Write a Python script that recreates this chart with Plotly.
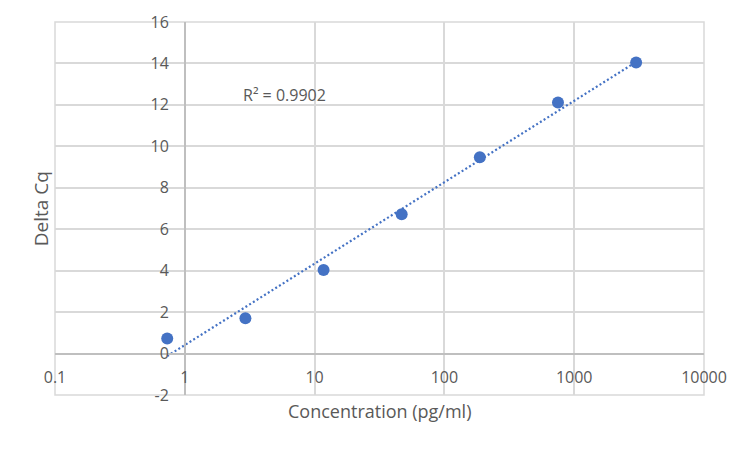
import numpy as np
import plotly.graph_objects as go

# standard curve: 4-fold dilution series
concentration = [0.732, 2.93, 11.72, 46.875, 187.5, 750, 3000]
delta_cq = [0.73, 1.70, 4.03, 6.72, 9.47, 12.12, 14.05]
r_squared_text = 'R² = 0.9902'

x_tickvals = [0.1, 1, 10, 100, 1000, 10000]
x_ticktext = ['0.1', '1', '10', '100', '1000', '10000']
y_tickvals = [-2, 0, 2, 4, 6, 8, 10, 12, 14, 16]
y_ticktext = ['-2', '0', '2', '4', '6', '8', '10', '12', '14', '16']

blue = '#4472C4'
grid = '#d9d9d9'
text_color = '#595959'
font = 'Open Sans'

# logarithmic trendline like Excel: y = a*ln(x) + b, drawn over the data range
slope, intercept = np.polyfit(np.log10(concentration), delta_cq, 1)
trend_x = [min(concentration), max(concentration)]
trend_y = [slope * np.log10(v) + intercept for v in trend_x]

x_range = [-1, 4]
y_range = [-2, 16]

fig = go.Figure()

fig.add_scatter(
    x=trend_x, y=trend_y, mode='lines',
    line=dict(color=blue, width=2.2, dash='2px,2.4px'),
    hoverinfo='skip', showlegend=False,
)
fig.add_scatter(
    x=concentration, y=delta_cq, mode='markers',
    marker=dict(color=blue, size=12, line=dict(width=0)),
    showlegend=False,
)

# gridlines at the range ends get dropped, so outline the plot area
fig.add_shape(
    type='rect', xref='paper', yref='paper', x0=0, x1=1, y0=0, y1=1,
    line=dict(color=grid, width=1.5), layer='below',
)

fig.add_annotation(
    x=0.431, y=12.49, xref='x', yref='y', text=r_squared_text,
    showarrow=False, xanchor='left', yanchor='middle',
    font=dict(family=font, size=16, color=text_color),
)
fig.add_annotation(
    x=0.5, y=-0.043, xref='paper', yref='paper', text='Concentration (pg/ml)',
    showarrow=False, xanchor='center', yanchor='middle',
    font=dict(family=font, size=18, color=text_color),
)
fig.add_annotation(
    x=-0.022, y=0.5, xref='paper', yref='paper', text='Delta Cq', textangle=-90,
    showarrow=False, xanchor='center', yanchor='middle',
    font=dict(family=font, size=19, color=text_color),
)

# the page body has an 8px margin, so the figure is shrunk by that much
fig.update_layout(
    width=742, height=442,
    margin=dict(l=47, r=46, t=14, b=55),
    paper_bgcolor='white', plot_bgcolor='white',
    font=dict(family=font, size=16, color=text_color),
    xaxis=dict(
        type='log', range=x_range,
        tickmode='array', tickvals=x_tickvals, ticktext=x_ticktext,
        showgrid=True, gridcolor=grid, gridwidth=1.5,
        showline=True, linecolor='#bfbfbf', linewidth=1.5,
        anchor='free', position=(0 - y_range[0]) / (y_range[1] - y_range[0]),
        ticks='', ticklabelstandoff=9, zeroline=False, automargin=False,
    ),
    yaxis=dict(
        range=y_range, tickmode='array', tickvals=y_tickvals, ticktext=y_ticktext,
        showgrid=True, gridcolor=grid, gridwidth=1.5,
        showline=True, linecolor='#bfbfbf', linewidth=1.5,
        anchor='free', position=(0 - x_range[0]) / (x_range[1] - x_range[0]),
        ticks='', ticklabelstandoff=12, zeroline=False, automargin=False,
    ),
)

fig.write_html('out.html')
